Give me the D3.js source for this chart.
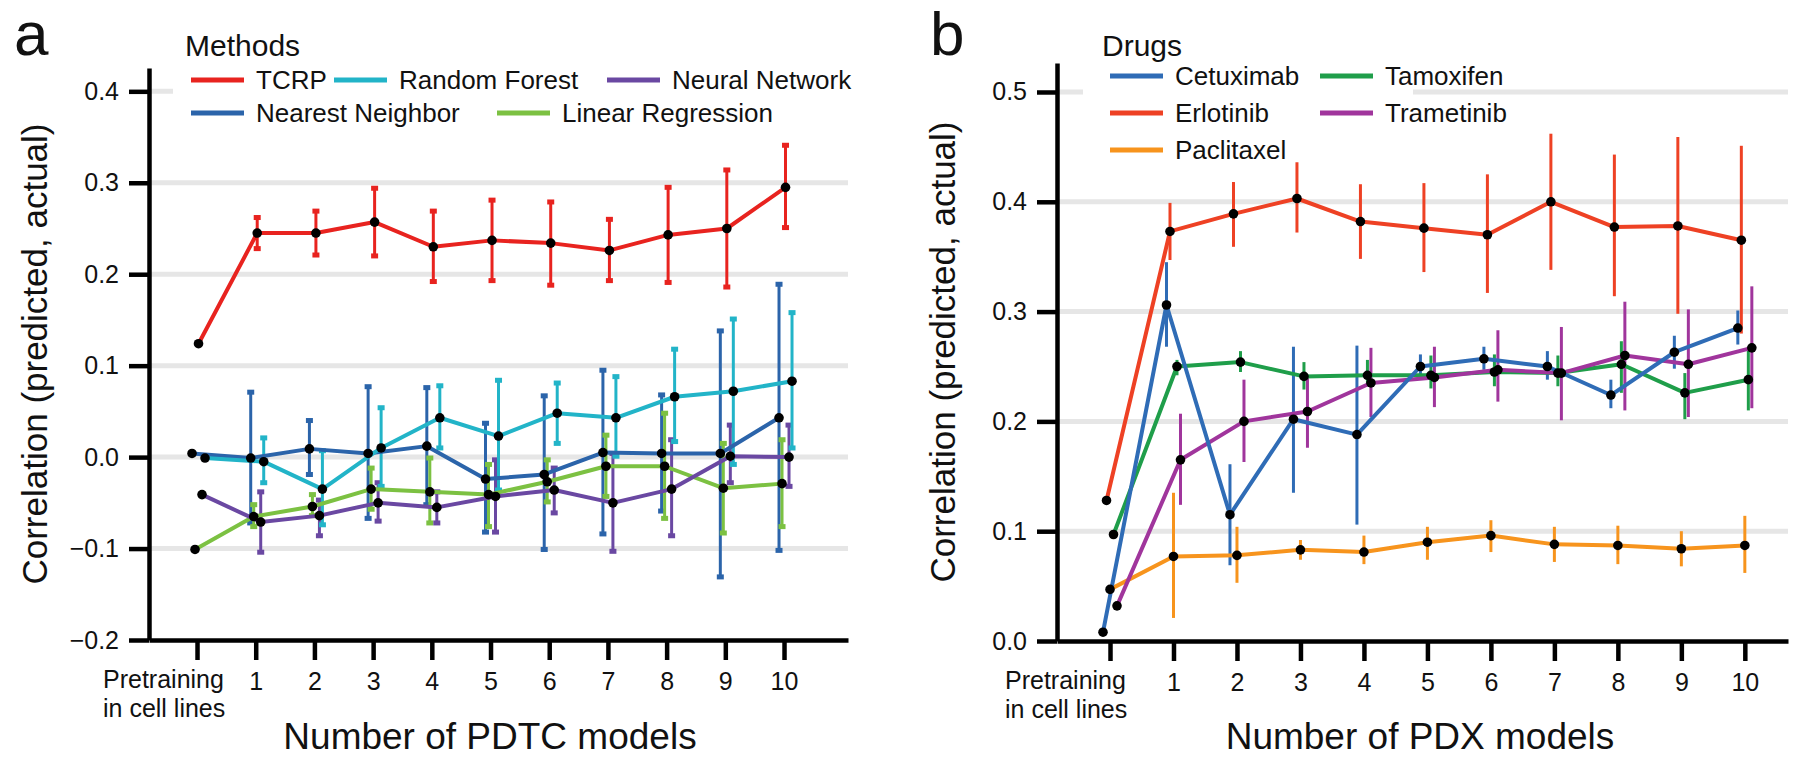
<!DOCTYPE html>
<html>
<head>
<meta charset="utf-8">
<script src="https://cdn.jsdelivr.net/npm/d3@7/dist/d3.min.js"></script>
<style>
  html, body { margin: 0; padding: 0; background: #ffffff; }
  svg { display: block; font-family: "Liberation Sans", Arial, Helvetica, sans-serif; }
</style>
</head>
<body>
<svg id="chart" width="1800" height="765"></svg>
<script>
// ---------------- DATA ----------------
const xSteps = [0, 1, 2, 3, 4, 5, 6, 7, 8, 9, 10];
const xTickLabels = ["Pretraining|in cell lines", "1", "2", "3", "4", "5", "6", "7", "8", "9", "10"];

// Panel a — methods (PDTC)
const methodNames = ["TCRP", "Random Forest", "Neural Network", "Nearest Neighbor", "Linear Regression"];
const yTicksA = [-0.2, -0.1, 0.0, 0.1, 0.2, 0.3, 0.4];

const tcrpMean = [0.124, 0.245, 0.245, 0.257, 0.230, 0.237, 0.234, 0.226, 0.243, 0.250, 0.295];
const tcrpLow  = [null, 0.228, 0.221, 0.220, 0.192, 0.193, 0.188, 0.193, 0.191, 0.186, 0.251];
const tcrpHigh = [null, 0.262, 0.269, 0.294, 0.269, 0.281, 0.279, 0.260, 0.295, 0.314, 0.341];

const rfMean = [-0.001, -0.005, -0.035, 0.010, 0.043, 0.023, 0.048, 0.043, 0.066, 0.072, 0.083];
const rfLow  = [null, -0.028, -0.074, -0.032, 0.010, -0.036, 0.015, 0.001, 0.017, -0.008, 0.010];
const rfHigh = [null, 0.021, 0.007, 0.054, 0.078, 0.084, 0.081, 0.088, 0.118, 0.151, 0.158];

const neuralMean = [-0.041, -0.071, -0.064, -0.050, -0.055, -0.043, -0.036, -0.050, -0.035, 0.001, 0.000];
const neuralLow  = [null, -0.104, -0.086, -0.070, -0.072, -0.082, -0.061, -0.103, -0.086, -0.028, -0.032];
const neuralHigh = [null, -0.038, -0.047, -0.028, -0.038, -0.003, -0.012, 0.004, 0.019, 0.035, 0.035];

const knnMean = [0.004, -0.001, 0.009, 0.004, 0.012, -0.024, -0.019, 0.005, 0.004, 0.004, 0.043];
const knnLow  = [null, -0.072, -0.019, -0.067, -0.052, -0.082, -0.101, -0.084, -0.059, -0.131, -0.102];
const knnHigh = [null, 0.071, 0.040, 0.077, 0.076, 0.037, 0.067, 0.095, 0.068, 0.138, 0.189];

const linMean = [-0.101, -0.065, -0.054, -0.035, -0.038, -0.041, -0.027, -0.010, -0.010, -0.034, -0.029];
const linLow  = [null, -0.076, -0.064, -0.057, -0.072, -0.076, -0.049, -0.043, -0.067, -0.083, -0.076];
const linHigh = [null, -0.052, -0.041, -0.012, -0.001, -0.008, -0.003, 0.024, 0.048, 0.015, 0.019];

// Panel b — drugs (PDX)
const drugNames = ["Cetuximab", "Erlotinib", "Paclitaxel", "Tamoxifen", "Trametinib"];
const yTicksB = [0.0, 0.1, 0.2, 0.3, 0.4, 0.5];

const cetMean = [0.008, 0.306, 0.115, 0.202, 0.188, 0.250, 0.257, 0.250, 0.224, 0.263, 0.285];
const cetLow  = [null, 0.268, 0.069, 0.135, 0.106, 0.239, 0.247, 0.238, 0.212, 0.248, 0.270];
const cetHigh = [null, 0.345, 0.161, 0.268, 0.269, 0.261, 0.268, 0.264, 0.238, 0.278, 0.301];

const erlMean = [0.128, 0.373, 0.389, 0.403, 0.382, 0.376, 0.370, 0.400, 0.377, 0.378, 0.365];
const erlLow  = [null, 0.347, 0.359, 0.372, 0.348, 0.336, 0.317, 0.338, 0.314, 0.298, 0.280];
const erlHigh = [null, 0.399, 0.418, 0.436, 0.416, 0.417, 0.425, 0.462, 0.443, 0.459, 0.451];

const pacMean = [0.047, 0.077, 0.078, 0.083, 0.081, 0.090, 0.096, 0.088, 0.087, 0.084, 0.087];
const pacLow  = [null, 0.021, 0.053, 0.074, 0.070, 0.074, 0.081, 0.072, 0.070, 0.068, 0.062];
const pacHigh = [null, 0.135, 0.104, 0.092, 0.096, 0.104, 0.110, 0.104, 0.105, 0.100, 0.114];

const tamMean = [0.097, 0.250, 0.254, 0.241, 0.242, 0.242, 0.245, 0.244, 0.252, 0.226, 0.238];
const tamLow  = [null, 0.242, 0.245, 0.229, 0.232, 0.230, 0.232, 0.232, 0.226, 0.202, 0.210];
const tamHigh = [null, 0.256, 0.264, 0.254, 0.256, 0.260, 0.261, 0.260, 0.273, 0.244, 0.268];

const traMean = [0.032, 0.165, 0.200, 0.209, 0.235, 0.240, 0.247, 0.244, 0.260, 0.252, 0.267];
const traLow  = [null, 0.124, 0.163, 0.176, 0.204, 0.213, 0.218, 0.201, 0.210, 0.204, 0.212];
const traHigh = [null, 0.207, 0.238, 0.240, 0.267, 0.268, 0.283, 0.286, 0.309, 0.302, 0.323];

// ---------------- STYLE / LAYOUT ----------------
const colorsA = {
  "TCRP": "#e8231f",
  "Random Forest": "#22b4c8",
  "Neural Network": "#6a48a2",
  "Nearest Neighbor": "#2b64aa",
  "Linear Regression": "#7cc142"
};
const colorsB = {
  "Cetuximab": "#2f6cb6",
  "Erlotinib": "#ee4124",
  "Paclitaxel": "#f7941d",
  "Tamoxifen": "#1f9e4a",
  "Trametinib": "#a0359c"
};

const seriesA = [
  { name: "Nearest Neighbor", mean: knnMean, low: knnLow, high: knnHigh, dx: -5 },
  { name: "Linear Regression", mean: linMean, low: linLow, high: linHigh, dx: -2 },
  { name: "Neural Network", mean: neuralMean, low: neuralLow, high: neuralHigh, dx: 5 },
  { name: "Random Forest", mean: rfMean, low: rfLow, high: rfHigh, dx: 8 },
  { name: "TCRP", mean: tcrpMean, low: tcrpLow, high: tcrpHigh, dx: 1.5 }
];
const seriesB = [
  { name: "Paclitaxel", mean: pacMean, low: pacLow, high: pacHigh, dx: 0 },
  { name: "Tamoxifen", mean: tamMean, low: tamLow, high: tamHigh, dx: 3.5 },
  { name: "Trametinib", mean: traMean, low: traLow, high: traHigh, dx: 7 },
  { name: "Cetuximab", mean: cetMean, low: cetLow, high: cetHigh, dx: -7 },
  { name: "Erlotinib", mean: erlMean, low: erlLow, high: erlHigh, dx: -3.5 }
];

const svg = d3.select("#chart");

function drawPanel(cfg) {
  const g = svg.append("g");
  const x = d3.scaleLinear().domain(cfg.xDomain).range([cfg.left, cfg.right]);
  const y = d3.scaleLinear().domain(cfg.yDomain).range([cfg.bottom, cfg.top]);

  // gridlines
  g.append("g").selectAll("line")
    .data(cfg.yTicks.filter(v => v > cfg.yDomain[0] + 1e-9))
    .join("line")
    .attr("x1", cfg.left).attr("x2", cfg.right)
    .attr("y1", d => y(d)).attr("y2", d => y(d))
    .attr("stroke", "#e6e6e6").attr("stroke-width", 5);

  // legend background (covers gridline under legend)
  g.append("rect")
    .attr("x", cfg.legendBox[0]).attr("y", cfg.legendBox[1])
    .attr("width", cfg.legendBox[2]).attr("height", cfg.legendBox[3])
    .attr("fill", "#ffffff");

  // y axis
  const yAxis = d3.axisLeft(y).tickValues(cfg.yTicks).tickFormat(d3.format(".1f"))
    .tickSizeInner(20).tickSizeOuter(0).tickPadding(10);
  const ya = g.append("g").attr("transform", `translate(${cfg.left},0)`).call(yAxis);
  ya.select(".domain").attr("stroke", "#000").attr("stroke-width", 4.5);
  ya.selectAll(".tick line").attr("stroke", "#000").attr("stroke-width", 4.5);
  ya.selectAll(".tick text").attr("font-size", 25).attr("fill", "#111")
    .attr("font-family", "Liberation Sans, Arial, sans-serif");

  // x axis
  const xAxis = d3.axisBottom(x).tickValues(xSteps)
    .tickFormat((d, i) => i === 0 ? "" : xTickLabels[i])
    .tickSizeInner(20).tickSizeOuter(0).tickPadding(12);
  const xa = g.append("g").attr("transform", `translate(0,${cfg.bottom})`).call(xAxis);
  xa.select(".domain").attr("stroke", "#000").attr("stroke-width", 4.5);
  xa.selectAll(".tick line").attr("stroke", "#000").attr("stroke-width", 4.5);
  xa.selectAll(".tick text").attr("font-size", 25).attr("fill", "#111")
    .attr("font-family", "Liberation Sans, Arial, sans-serif");
  // two-line first label
  const parts = xTickLabels[0].split("|");
  const pre = g.append("text")
    .attr("x", cfg.preX).attr("y", cfg.bottom + 48)
    .attr("font-size", 25).attr("fill", "#111");
  pre.append("tspan").attr("x", cfg.preX).attr("dy", 0).text(parts[0]);
  pre.append("tspan").attr("x", cfg.preX).attr("dy", 29).text(parts[1]);

  // axis titles
  g.append("text")
    .attr("x", cfg.xTitleX).attr("y", 749)
    .attr("text-anchor", "middle").attr("font-size", 37).attr("fill", "#111")
    .text(cfg.xTitle);
  g.append("text")
    .attr("transform", `translate(${cfg.yTitleX},${(cfg.top + cfg.bottom) / 2}) rotate(-90)`)
    .attr("text-anchor", "middle").attr("font-size", 35).attr("fill", "#111")
    .text("Correlation (predicted, actual)");

  // panel letter
  g.append("text").attr("x", cfg.letterX).attr("y", 55)
    .attr("font-size", 62).attr("fill", "#111").text(cfg.letter);

  // error bars
  cfg.series.forEach(s => {
    const col = cfg.colors[s.name];
    const bars = xSteps.map((d, i) => ({ x: d, lo: s.low[i], hi: s.high[i] })).filter(d => d.lo !== null);
    const eg = g.append("g");
    eg.selectAll("line.eb").data(bars).join("line").attr("class", "eb")
      .attr("x1", d => x(d.x) + s.dx).attr("x2", d => x(d.x) + s.dx)
      .attr("y1", d => y(d.lo)).attr("y2", d => y(d.hi))
      .attr("stroke", col).attr("stroke-width", 3);
    if (cfg.caps) {
      ["lo", "hi"].forEach(k => {
        eg.selectAll("rect.cap" + k).data(bars).join("rect").attr("class", "cap" + k)
          .attr("x", d => x(d.x) + s.dx - 3.5).attr("y", d => y(d[k]) - 2.5)
          .attr("width", 7).attr("height", 5).attr("fill", col);
      });
    }
  });

  // lines
  cfg.series.forEach(s => {
    const pts = xSteps.map((d, i) => [x(d) + s.dx, y(s.mean[i])]);
    g.append("path").attr("d", d3.line()(pts))
      .attr("fill", "none").attr("stroke", cfg.colors[s.name])
      .attr("stroke-width", 4).attr("stroke-linejoin", "round");
  });

  // points
  cfg.series.forEach(s => {
    g.append("g").selectAll("circle").data(xSteps).join("circle")
      .attr("cx", (d, i) => x(d) + s.dx).attr("cy", (d, i) => y(s.mean[i]))
      .attr("r", 4.8).attr("fill", "#000");
  });

  // legend
  g.append("text").attr("x", cfg.legendTitleX).attr("y", 56)
    .attr("font-size", 30).attr("fill", "#111").text(cfg.legendTitle);
  cfg.legendItems.forEach(it => {
    g.append("line").attr("x1", it.x).attr("x2", it.x + 53)
      .attr("y1", it.y).attr("y2", it.y)
      .attr("stroke", cfg.colors[it.name]).attr("stroke-width", 5);
    g.append("text").attr("x", it.x + 65).attr("y", it.y).attr("dy", "0.36em")
      .attr("font-size", 26).attr("fill", "#111").text(it.name);
  });
}

drawPanel({
  letter: "a", letterX: 14,
  left: 149, right: 848, top: 68, bottom: 640,
  xDomain: [-0.818, 11.09], yDomain: [-0.2, 0.4255],
  yTicks: yTicksA, series: seriesA, colors: colorsA, caps: true,
  preX: 103, xTitle: "Number of PDTC models", xTitleX: 490, yTitleX: 47,
  legendTitle: "Methods", legendTitleX: 185,
  legendBox: [173, 25, 690, 105],
  legendItems: [
    { name: methodNames[0], x: 191, y: 80 },
    { name: methodNames[1], x: 334, y: 80 },
    { name: methodNames[2], x: 607, y: 80 },
    { name: methodNames[3], x: 191, y: 113 },
    { name: methodNames[4], x: 497, y: 113 }
  ]
});

drawPanel({
  letter: "b", letterX: 930,
  left: 1057, right: 1788, top: 63, bottom: 641,
  xDomain: [-0.835, 10.68], yDomain: [0, 0.5264],
  yTicks: yTicksB, series: seriesB, colors: colorsB, caps: false,
  preX: 1005, xTitle: "Number of PDX models", xTitleX: 1420, yTitleX: 955,
  legendTitle: "Drugs", legendTitleX: 1102,
  legendBox: [1083, 20, 330, 150],
  legendItems: [
    { name: drugNames[0], x: 1110, y: 76 },
    { name: drugNames[1], x: 1110, y: 113 },
    { name: drugNames[2], x: 1110, y: 150 },
    { name: drugNames[3], x: 1320, y: 76 },
    { name: drugNames[4], x: 1320, y: 113 }
  ]
});
</script>
</body>
</html>
